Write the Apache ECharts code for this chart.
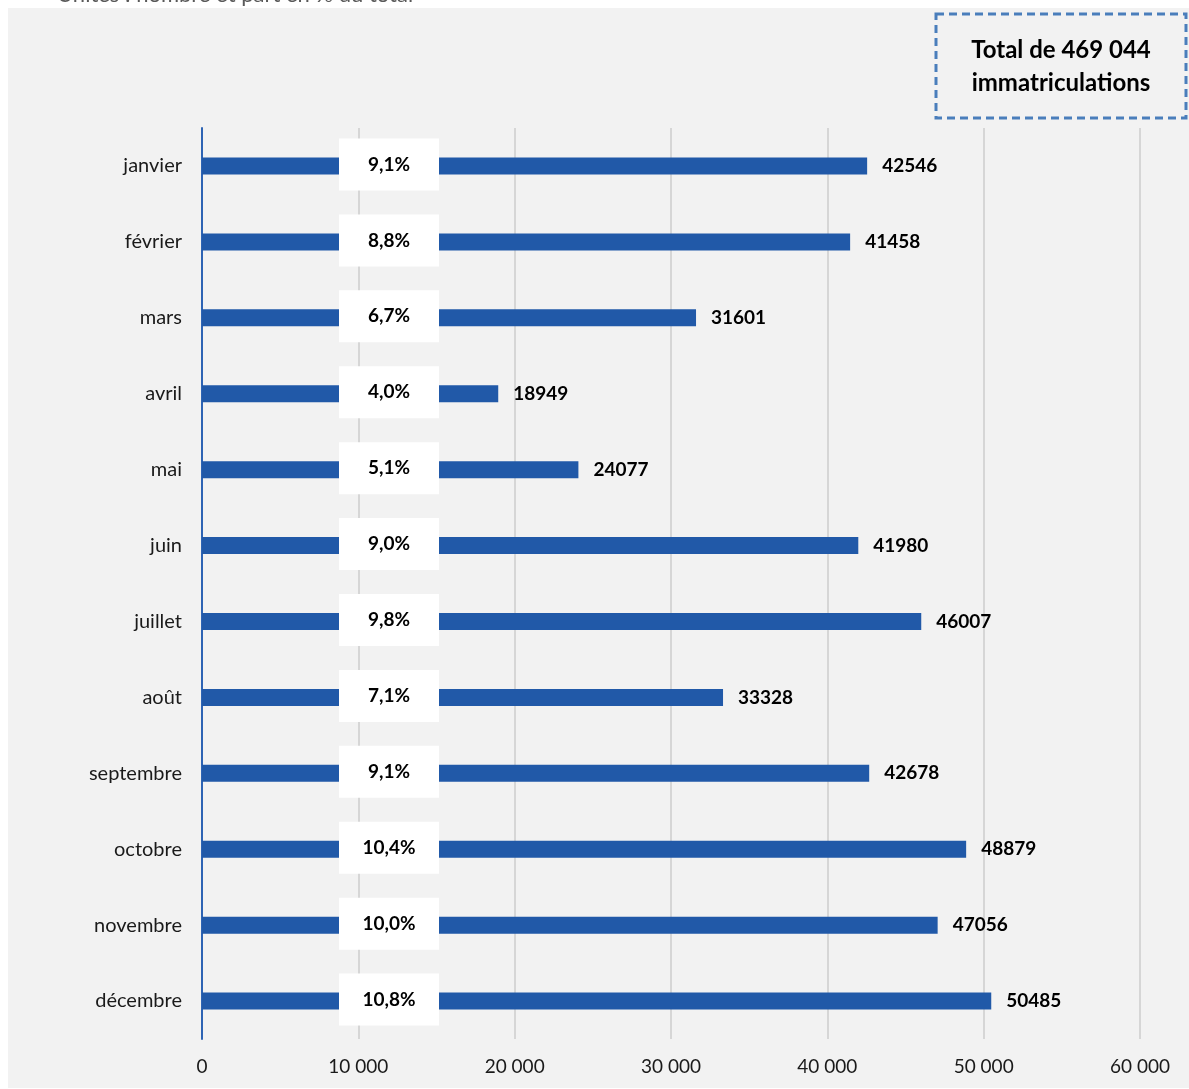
<!DOCTYPE html>
<html>
<head>
<meta charset="utf-8">
<script src="https://cdn.jsdelivr.net/npm/echarts@6/dist/echarts.min.js"></script>
<style>
  html, body { margin: 0; padding: 0; background: #ffffff; }
  #chart { width: 1189px; height: 1089px; }
</style>
</head>
<body>
<div id="chart"></div>
<script>
// Immatriculations par mois
const months = ['janvier', 'février', 'mars', 'avril', 'mai', 'juin', 'juillet', 'août', 'septembre', 'octobre', 'novembre', 'décembre'];
const registrations = [42546, 41458, 31601, 18949, 24077, 41980, 46007, 33328, 42678, 48879, 47056, 50485];
const shares = ['9,1%', '8,8%', '6,7%', '4,0%', '5,1%', '9,0%', '9,8%', '7,1%', '9,1%', '10,4%', '10,0%', '10,8%'];
const xTicks = { min: 0, max: 60000, step: 10000 };
const totalText = 'Total de 469 044\nimmatriculations';
const unitsText = 'Unités : nombre et part en % du total';

const FONT = 'Lato, "Open Sans", sans-serif';
const BAR = '#2159a8';

const fmtThousands = v => String(v).replace(/\B(?=(\d{3})+(?!\d))/g, ' ');

const chart = echarts.init(document.getElementById('chart'), null, { renderer: 'canvas' });

chart.setOption({
  animation: false,
  backgroundColor: '#ffffff',
  textStyle: { fontFamily: FONT },
  graphic: [
    {
      type: 'rect', z: -10, silent: true,
      shape: { x: 8, y: 8, width: 1181, height: 1080 },
      style: { fill: '#f2f2f2' }
    },
    {
      type: 'text', z: -20, silent: true,
      left: 57, top: -16,
      style: { text: unitsText, font: '22px ' + FONT, fill: '#595959' }
    },
    {
      type: 'rect', z: 10, silent: true,
      shape: { x: 936, y: 14, width: 250, height: 104 },
      style: { fill: 'transparent', stroke: '#4a7ebb', lineWidth: 3, lineDash: [8, 5] }
    },
    {
      type: 'text', z: 11, silent: true,
      x: 1061, y: 67,
      style: {
        text: totalText, font: 'bold 24px ' + FONT, fill: '#000000',
        align: 'center', verticalAlign: 'middle', lineHeight: 33
      }
    }
  ],
  grid: { left: 202, right: 49, top: 128, bottom: 50, containLabel: false },
  xAxis: {
    type: 'value',
    min: xTicks.min, max: xTicks.max, interval: xTicks.step,
    axisLine: { show: false },
    axisTick: { show: false },
    axisLabel: {
      margin: 18, color: '#1a1a1a', fontSize: 19, fontFamily: FONT,
      formatter: v => fmtThousands(v)
    },
    splitLine: { show: true, lineStyle: { color: '#d6d6d6', width: 2 } }
  },
  yAxis: {
    type: 'category',
    data: months,
    inverse: true,
    axisLine: { show: true, lineStyle: { color: '#2e64b4', width: 2 } },
    axisTick: { show: false },
    axisLabel: { margin: 20, color: '#1a1a1a', fontSize: 20, fontFamily: FONT }
  },
  series: [
    {
      type: 'bar',
      data: registrations,
      barWidth: 17,
      itemStyle: { color: BAR },
      silent: true,
      label: {
        show: true, position: 'right', distance: 15,
        color: '#000000', fontWeight: 'bold', fontSize: 19, fontFamily: FONT
      }
    },
    {
      // white boxes carrying each month's share of the yearly total
      type: 'bar',
      data: registrations,
      barWidth: 17,
      barGap: '-100%',
      itemStyle: { color: 'transparent' },
      silent: true,
      z: 5,
      label: {
        show: true,
        position: [187, 7],
        align: 'center',
        verticalAlign: 'middle',
        width: 100, height: 52, lineHeight: 52,
        backgroundColor: '#ffffff',
        color: '#000000', fontWeight: 'bold', fontSize: 19, fontFamily: FONT,
        formatter: p => shares[p.dataIndex]
      }
    }
  ]
});
</script>
</body>
</html>
